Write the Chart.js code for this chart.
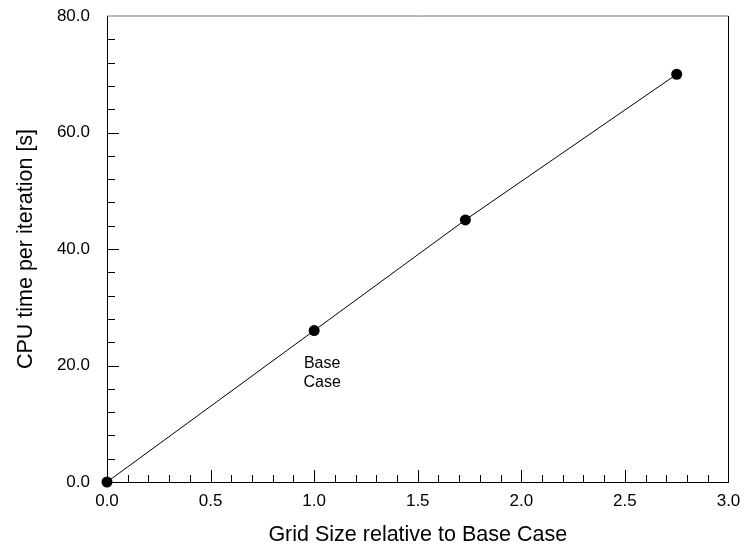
<!DOCTYPE html>
<html>
<head>
<meta charset="utf-8">
<title>CPU time per iteration</title>
<script src="https://cdn.jsdelivr.net/npm/chart.js@4/dist/chart.umd.min.js"></script>
<style>
  html, body { margin: 0; padding: 0; background: #fff; }
  #wrap { width: 744px; height: 548px; }
</style>
</head>
<body>
<div id="wrap"><canvas id="cpuChart" width="744" height="548"></canvas></div>
<script>
// grid size relative to the base case, and CPU seconds per iteration
const gridSize = [0.0, 1.0, 1.73, 2.75];
const cpuTime = [0.0, 26.0, 45.0, 70.0];
const noteLines = ["Base", "Case"];
const notePoint = 1; // index of the base case point

const FONT = "'Liberation Sans', Arial, sans-serif";

// fixed scale box sizes; drop the label overhang padding so the plot frame sits where we want
function fixBox(size) {
  return s => {
    if (s.isHorizontal()) s.height = size; else s.width = size;
    s.paddingTop = s.paddingBottom = s.paddingLeft = s.paddingRight = 0;
  };
}

// inward tick marks (major + minor), plus the top/right frame
const frameTicks = {
  id: "frameTicks",
  afterDatasetsDraw(chart) {
    const { ctx, chartArea: a, scales: { x, y } } = chart;
    ctx.save();
    ctx.lineWidth = 1;
    ctx.strokeStyle = "#000";
    ctx.beginPath();
    // x axis: minor every 0.1, major every 0.5
    for (let i = 1; i < 30; i++) {
      const px = Math.round(x.getPixelForValue(i / 10)) + 0.5;
      const len = i % 5 === 0 ? 12 : 7;
      ctx.moveTo(px, a.bottom);
      ctx.lineTo(px, a.bottom - len);
    }
    // y axis: minor every 4, major every 20
    for (let v = 4; v < 80; v += 4) {
      const py = Math.round(y.getPixelForValue(v)) + 0.5;
      const len = v % 20 === 0 ? 12 : 8;
      ctx.moveTo(a.left, py);
      ctx.lineTo(a.left + len, py);
    }
    ctx.stroke();

    ctx.beginPath();
    ctx.moveTo(a.right, a.top);
    ctx.lineTo(a.right, a.bottom);
    ctx.stroke();
    ctx.strokeStyle = "#777";
    ctx.beginPath();
    ctx.moveTo(a.left, a.top);
    ctx.lineTo(a.right, a.top);
    ctx.stroke();

    // label under the base case point
    const bx = x.getPixelForValue(gridSize[notePoint]);
    const by = y.getPixelForValue(cpuTime[notePoint]);
    ctx.fillStyle = "#000";
    ctx.font = "16px " + FONT;
    ctx.textAlign = "center";
    ctx.textBaseline = "alphabetic";
    ctx.fillText(noteLines[0], bx + 8, by + 37);
    ctx.fillText(noteLines[1], bx + 8, by + 56);
    ctx.restore();
  }
};

new Chart(document.getElementById("cpuChart"), {
  type: "scatter",
  data: {
    datasets: [{
      data: gridSize.map((g, i) => ({ x: g, y: cpuTime[i] })),
      showLine: true,
      borderColor: "#000",
      borderWidth: 1,
      backgroundColor: "#000",
      pointRadius: 5.5,
      pointBorderWidth: 0,
      clip: false
    }]
  },
  options: {
    responsive: false,
    animation: false,
    events: [],
    layout: { autoPadding: false, padding: { top: 16, right: 15.5, bottom: 0, left: 0 } },
    plugins: { legend: { display: false }, tooltip: { enabled: false } },
    scales: {
      x: {
        type: "linear",
        min: 0, max: 3,
        afterFit: fixBox(66),
        border: { display: true, color: "#000", width: 1 },
        grid: { display: false, drawTicks: false },
        ticks: {
          stepSize: 0.5, padding: 9, color: "#000",
          font: { family: FONT, size: 17 },
          callback: v => v.toFixed(1)
        },
        title: {
          display: true, text: "Grid Size relative to Base Case", color: "#000",
          font: { family: FONT, size: 21.5 },
          padding: { top: 0, bottom: 0 }
        }
      },
      y: {
        type: "linear",
        min: 0, max: 80,
        afterFit: fixBox(107),
        border: { display: true, color: "#000", width: 1 },
        grid: { display: false, drawTicks: false },
        ticks: {
          stepSize: 20, padding: 17, color: "#000",
          font: { family: FONT, size: 17 },
          callback: v => v.toFixed(1)
        },
        title: {
          display: true, text: "CPU time per iteration [s]", color: "#000",
          font: { family: FONT, size: 21.5 },
          padding: { top: 13, bottom: 0 }
        }
      }
    }
  },
  plugins: [frameTicks]
});
</script>
</body>
</html>
